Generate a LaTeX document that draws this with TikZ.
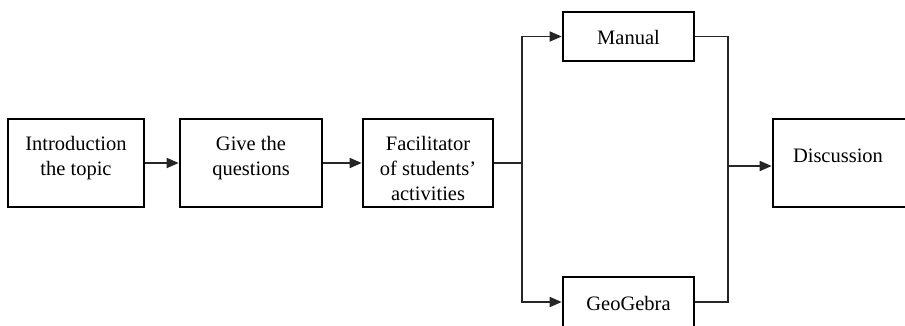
\documentclass[tikz,border=0pt]{standalone}
\usepackage{fontspec}
\setmainfont{Liberation Serif}
\usetikzlibrary{arrows.meta}
\begin{document}
\begin{tikzpicture}[x=1pt,y=-1pt,
  box/.style={draw=black,line width=2.6pt,inner sep=0pt},
  lbl/.style={font=\fontsize{20.5}{25}\selectfont,align=center,inner sep=0pt},
  conn/.style={draw=black!85,line width=1.7pt},
  arr/.style={conn,-{Triangle[length=12pt,width=10pt]}}]
\useasboundingbox (0,0) rectangle (905,325);
% boxes
\node[box,minimum width=136pt,minimum height=88pt] (intro) at (76,163) {};
\node[box,minimum width=142pt,minimum height=88pt] (give) at (251,163) {};
\node[box,minimum width=130pt,minimum height=88pt] (facil) at (428,163) {};
\node[box,minimum width=131pt,minimum height=49pt] (manual) at (628.5,36.5) {};
\node[box,minimum width=131pt,minimum height=54pt] (geo) at (628.5,304) {};
\node[box,minimum width=136pt,minimum height=88pt] (disc) at (841,163) {};
% labels
\node[lbl] (introT) at (76,158) {Introduction\\the topic};
\node[lbl] (giveT) at (251,158) {Give the\\questions};
\node[lbl] (facilT) at (428,168) {Facilitator\\of students’\\activities};
\node[lbl] (manualT) at (628.5,37) {Manual};
\node[lbl] (geoT) at (628.5,303) {GeoGebra};
\node[lbl] (discT) at (838,156) {Discussion};
% connectors
\coordinate (split) at (522,163);
\coordinate (join) at (728,166);
\coordinate (geoIn) at (522,302);
\draw[arr] (intro) -- (give);
\draw[arr] (give) -- (facil);
\draw[conn] (facil.east) -- (split);
\draw[arr] (split) |- (manual.west);
\draw[arr] (split) -- (geoIn) -- (geoIn -| geo.west);
\draw[conn] (manual.east) -| (join);
\draw[conn] (geoIn -| geo.east) -| (join);
\draw[arr] (join) -- (join -| disc.west);
\end{tikzpicture}
\end{document}
